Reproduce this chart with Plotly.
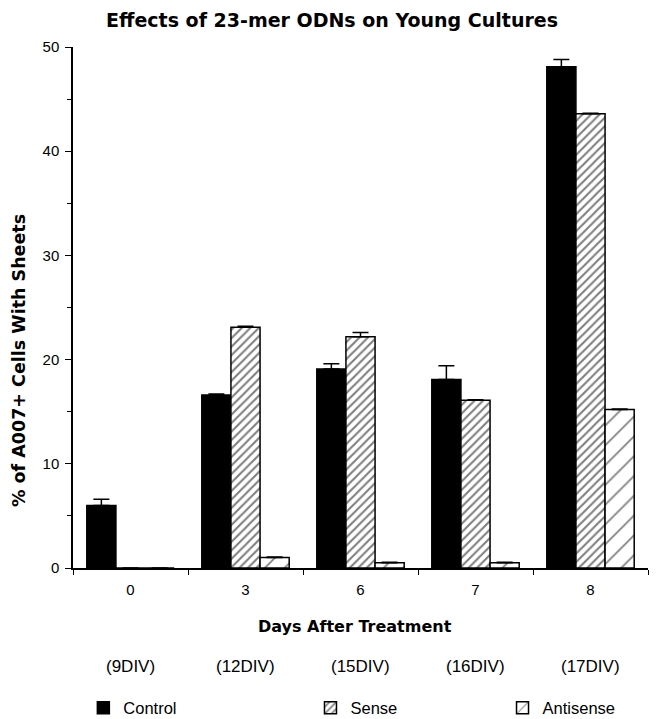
import plotly.graph_objects as go

days = ["0", "3", "6", "7", "8"]
div_labels = ["(9DIV)", "(12DIV)", "(15DIV)", "(16DIV)", "(17DIV)"]

control = [6.0, 16.6, 19.1, 18.1, 48.1]
control_err = [0.6, 0.1, 0.5, 1.3, 0.7]
sense = [0.0, 23.1, 22.2, 16.1, 43.6]
sense_err = [0.0, 0.1, 0.4, 0.05, 0.05]
antisense = [0.0, 1.0, 0.5, 0.5, 15.2]
antisense_err = [0.0, 0.05, 0.05, 0.05, 0.05]

FONT = "Liberation Sans, Arial, Helvetica, sans-serif"
BOLD = "DejaVu Sans, Liberation Sans, Arial, sans-serif"

fig = go.Figure()

def add(name, y, err, pattern, legend, color="white"):
    fig.add_trace(go.Bar(
        x=days, y=y, name=name, legend=legend,
        marker=dict(color=color, line=dict(color="black", width=1.5), pattern=pattern),
        error_y=dict(type="data", array=err, arrayminus=[0]*len(err), symmetric=False,
                     color="black", thickness=1.5, width=8),
    ))

add("Control", control, control_err, dict(shape=""), "legend", color="black")
add("Sense", sense, sense_err,
    dict(shape="/", size=6, solidity=0.35, fgcolor="black", bgcolor="white", fillmode="overlay"), "legend2")
add("Antisense", antisense, antisense_err,
    dict(shape="/", size=14, solidity=0.12, fgcolor="black", bgcolor="white", fillmode="overlay"), "legend3")

annotations = [
    dict(text=lab, x=i, xref="x", y=-0.19, yref="paper", showarrow=False,
         font=dict(family=FONT, size=17, color="black"), yanchor="middle")
    for i, lab in enumerate(div_labels)
]
annotations.append(dict(text="<b>Days After Treatment</b>", x=0.49, xref="paper", y=-0.113,
                        yref="paper", showarrow=False, yanchor="middle",
                        font=dict(family=BOLD, size=16, color="black")))
annotations.append(dict(text="<b>% of A007+ Cells With Sheets</b>", x=-0.094, xref="paper",
                        y=0.399, yref="paper", showarrow=False, textangle=-90,
                        xanchor="center", yanchor="middle",
                        font=dict(family=BOLD, size=17.5, color="black")))

leg_common = dict(orientation="h", yanchor="middle", xanchor="left", bgcolor="rgba(0,0,0,0)",
                  font=dict(family=FONT, size=16.5, color="black"))

# page body adds an 8px offset, so the figure is sized to the visible area
fig.update_layout(
    width=652, height=711,
    margin=dict(l=65, r=12, t=39, b=151, autoexpand=False),
    paper_bgcolor="white", plot_bgcolor="white",
    title=dict(text="<b>Effects of 23-mer ODNs on Young Cultures</b>", x=0.497, xanchor="center",
               y=1 - 6 / 711, yanchor="top", yref="container",
               font=dict(family=BOLD, size=19, color="black")),
    barmode="group", bargap=0.24, bargroupgap=0,
    showlegend=True,
    legend=dict(x=0.018, y=-0.269, **leg_common),
    legend2=dict(x=0.413, y=-0.269, **leg_common),
    legend3=dict(x=0.747, y=-0.269, **leg_common),
    annotations=annotations,
    xaxis=dict(type="category", showline=True, linecolor="black", linewidth=1.5,
               ticks="outside", tickson="boundaries", ticklen=5, tickcolor="black",
               tickfont=dict(family=FONT, size=15, color="black"), showgrid=False,
               ticklabelstandoff=7),
    yaxis=dict(range=[0, 50], showline=True, linecolor="black", linewidth=1.5,
               ticks="outside", ticklen=6, tickcolor="black", dtick=10,
               minor=dict(ticks="outside", ticklen=4, dtick=5, tickcolor="black", showgrid=False),
               tickfont=dict(family=FONT, size=15, color="black"), showgrid=False, zeroline=False,
               ticklabelstandoff=3),
)

fig.write_html("out.html")
